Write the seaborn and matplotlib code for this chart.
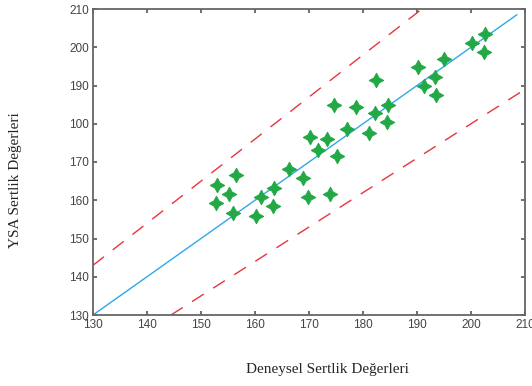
import matplotlib
matplotlib.use("Agg")
import matplotlib.pyplot as plt
import seaborn as sns
import numpy as np
import pandas as pd

# deneysel (x) vs YSA (y) sertlik degerleri, okunarak tahmin edildi
deneysel = [174.6, 178.7, 177.1, 170.1, 173.4, 171.7, 175.2, 166.3, 156.4, 168.8,
            153.0, 163.6, 155.2, 161.2, 169.9, 173.9, 152.7, 163.3, 156.0, 160.1,
            202.6, 200.1, 202.4, 195.0, 190.2, 182.4, 193.4, 191.3, 193.6, 184.7,
            182.3, 184.5, 181.2]
ysa = [185.0, 184.4, 178.5, 176.6, 176.1, 173.1, 171.6, 168.2, 166.6, 165.8,
       163.9, 163.2, 161.6, 160.8, 160.8, 161.6, 159.4, 158.5, 156.6, 155.9,
       203.5, 201.2, 198.8, 196.8, 194.9, 191.4, 192.3, 189.9, 187.6, 185.0,
       182.7, 180.5, 177.7]

ideal_x = [130, 208.5]
ust_x = [130, 210 / 1.1]
alt_x = [130 / 0.9, 210]
ust_oran = 1.1
alt_oran = 0.9

ticks = [130, 140, 150, 160, 170, 180, 190, 200, 210]
xtick_labels = ["130", "140", "150", "160", "170", "180", "190", "200", "210"]
ytick_labels = ["130", "140", "150", "160", "170", "100", "190", "200", "210"]

sns.set_style("ticks")
plt.rcParams["font.family"] = ["Liberation Sans", "DejaVu Sans"]

df = pd.DataFrame({"x": deneysel, "y": ysa})
lines = pd.concat([
    pd.DataFrame({"x": ideal_x, "y": ideal_x, "k": "ideal"}),
    pd.DataFrame({"x": ust_x, "y": np.array(ust_x) * ust_oran, "k": "ust"}),
    pd.DataFrame({"x": alt_x, "y": np.array(alt_x) * alt_oran, "k": "alt"}),
])

fig = plt.figure(figsize=(5.32, 3.86), dpi=100)
ax = fig.add_axes([93 / 532, 1 - 315 / 386, 432 / 532, 306 / 386])

sns.lineplot(data=lines[lines.k == "ideal"], x="x", y="y", ax=ax,
             color="#2fa8e8", lw=1.0)
for k in ["ust", "alt"]:
    sns.lineplot(data=lines[lines.k == k], x="x", y="y", ax=ax,
                 color="#e8343e", lw=1.0, dashes=False)
    ax.lines[-1].set_dashes([10, 8])

sns.scatterplot(data=df, x="x", y="y", ax=ax, marker=(4, 1, 0), s=105,
                color="#22a845", edgecolor="#22a845", linewidth=0.8, zorder=3)

ax.set_xlim(130, 210)
ax.set_ylim(130, 210)
ax.set_xticks(ticks)
ax.set_xticklabels(xtick_labels)
ax.set_yticks(ticks)
ax.set_yticklabels(ytick_labels)
ax.tick_params(direction="in", length=3, width=1.2, top=True, right=True,
               labelsize=8.5, colors="#555555", labelcolor="#444444", pad=3)
for s in ax.spines.values():
    s.set_visible(True)
    s.set_color("#666666")
    s.set_linewidth(1.3)
ax.set_xlabel("")
ax.set_ylabel("")

fig.text(327 / 532, 1 - 370 / 386, "Deneysel Sertlik Değerleri", ha="center",
         va="center", fontsize=11, family=["Liberation Serif", "DejaVu Serif"])
fig.text(16 / 532, 1 - 180 / 386, "YSA Sertlik Değerleri", ha="center",
         va="center", rotation=90, fontsize=11,
         family=["Liberation Serif", "DejaVu Serif"])

fig.savefig("out.png", dpi=100)
